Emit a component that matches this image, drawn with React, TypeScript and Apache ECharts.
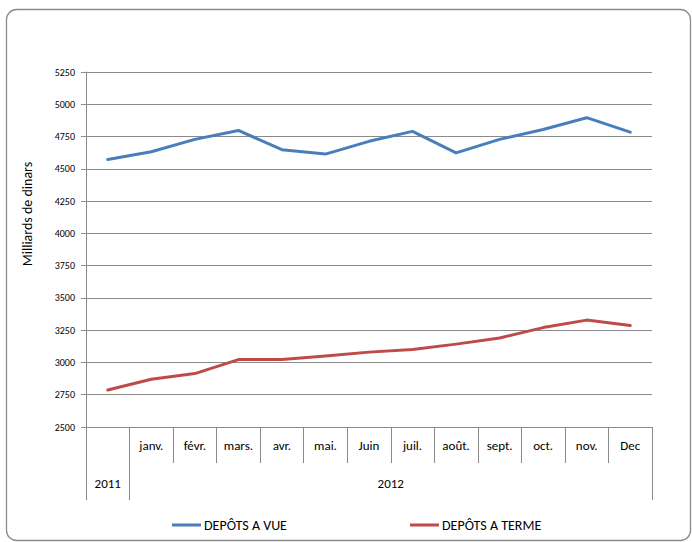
import React, { useEffect, useRef } from "react";
import * as echarts from "echarts";

const categories = ["", "janv.", "févr.", "mars.", "avr.", "mai.", "Juin", "juil.", "août.", "sept.", "oct.", "nov.", "Dec"];
const yearLabels = ["2011", "2012"];
const depotsVue = [4572, 4632, 4728, 4797, 4648, 4614, 4713, 4790, 4623, 4728, 4805, 4896, 4784];
const depotsTerme = [2786, 2870, 2914, 3022, 3022, 3050, 3080, 3100, 3142, 3190, 3270, 3328, 3286];
const seriesNames = ["DEPÔTS A VUE", "DEPÔTS A TERME"];

const FONT = "Carlito, Calibri, Lato, 'Open Sans', sans-serif";
const GRID_COLOR = "#8a8a8a";

export default function App() {
  const ref = useRef<HTMLDivElement>(null);
  useEffect(() => {
    if (!ref.current) return;
    const chart = echarts.init(ref.current, null, { renderer: "svg" });
    chart.setOption({
      animation: false,
      backgroundColor: "#ffffff",
      textStyle: { fontFamily: FONT },
      grid: { left: 86, right: 40, top: 72, bottom: 115, containLabel: false },
      xAxis: [
        {
          type: "category",
          data: categories,
          boundaryGap: true,
          position: "bottom",
          axisLine: { show: true, lineStyle: { color: GRID_COLOR, width: 1 } },
          axisTick: { show: true, interval: 0, length: 36, lineStyle: { color: GRID_COLOR } },
          axisLabel: { interval: 0, margin: 12, fontSize: 13, color: "#000", fontFamily: FONT },
          splitLine: { show: false },
        },
        {
          type: "value",
          min: 0,
          max: categories.length,
          position: "bottom",
          axisLine: { show: false },
          splitLine: { show: false },
          axisTick: { show: true, customValues: [0, 1, categories.length], length: 73, lineStyle: { color: GRID_COLOR } },
          axisLabel: {
            show: true,
            customValues: [0.5, (1 + categories.length) / 2],
            formatter: (v: number) => (v < 1 ? yearLabels[0] : yearLabels[1]),
            margin: 50,
            fontSize: 13,
            color: "#000",
            fontFamily: FONT,
          },
        },
      ],
      yAxis: {
        type: "value",
        min: 2500,
        max: 5250,
        interval: 250,
        axisLine: { show: true, lineStyle: { color: GRID_COLOR } },
        axisTick: { show: true, length: 5, lineStyle: { color: GRID_COLOR } },
        axisLabel: { margin: 11, fontSize: 10, color: "#000", fontFamily: FONT, formatter: (v: number) => String(v) },
        splitLine: { show: true, lineStyle: { color: GRID_COLOR, width: 1 } },
      },
      legend: [
        {
          data: [seriesNames[0]],
          left: 167,
          top: 513,
          icon: "rect",
          itemWidth: 29,
          itemHeight: 3,
          textStyle: { fontSize: 14, color: "#000", fontFamily: FONT, padding: [0, 0, 0, -2] },
        },
        {
          data: [seriesNames[1]],
          left: 405,
          top: 513,
          icon: "rect",
          itemWidth: 29,
          itemHeight: 3,
          textStyle: { fontSize: 14, color: "#000", fontFamily: FONT, padding: [0, 0, 0, -2] },
        },
      ],
      graphic: [
        {
          type: "rect",
          shape: { x: 6.5, y: 9.5, width: 684, height: 531, r: 10 },
          style: { fill: "none", stroke: "#8c8c8c", lineWidth: 1.3 },
          silent: true,
        },
        {
          type: "text",
          x: 27,
          y: 214,
          rotation: Math.PI / 2,
          style: {
            text: "Milliards de dinars",
            fontSize: 14,
            fontFamily: FONT,
            fill: "#000",
            align: "center",
            verticalAlign: "middle",
          },
        },
      ],
      series: [
        {
          name: seriesNames[0],
          type: "line",
          data: depotsVue,
          xAxisIndex: 0,
          showSymbol: false,
          symbol: "none",
          lineStyle: { color: "#4a7ebb", width: 3, cap: "round", join: "round" },
          itemStyle: { color: "#4a7ebb" },
        },
        {
          name: seriesNames[1],
          type: "line",
          data: depotsTerme,
          xAxisIndex: 0,
          showSymbol: false,
          symbol: "none",
          lineStyle: { color: "#be4b48", width: 3, cap: "round", join: "round" },
          itemStyle: { color: "#be4b48" },
        },
      ],
    });
    return () => chart.dispose();
  }, []);
  return <div ref={ref} style={{ position: "absolute", left: 0, top: 0, width: 692, height: 542 }} />;
}
